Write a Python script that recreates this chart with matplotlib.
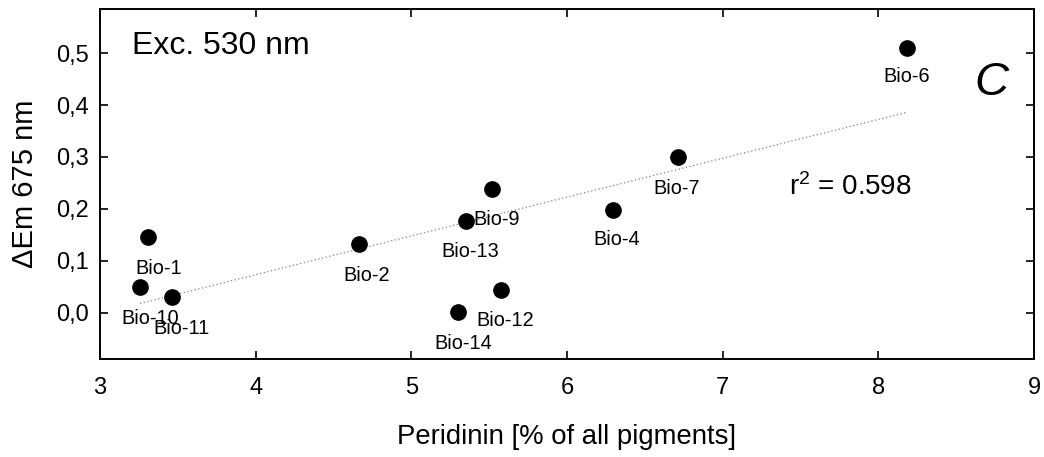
import numpy as np
import matplotlib
matplotlib.use("Agg")
import matplotlib.pyplot as plt

plt.rcParams['font.family'] = ['Liberation Sans', 'DejaVu Sans']
plt.rcParams['mathtext.fontset'] = 'custom'
plt.rcParams['mathtext.rm'] = 'Liberation Sans'
plt.rcParams['mathtext.it'] = 'Liberation Sans:italic'

# ------------------------ data
names = ["Bio-1", "Bio-10", "Bio-11", "Bio-2", "Bio-9", "Bio-13",
         "Bio-4", "Bio-12", "Bio-14", "Bio-7", "Bio-6"]
peridinin = [3.31, 3.257, 3.465, 4.665, 5.516, 5.349, 6.297, 5.574, 5.297, 6.71, 8.187]
d_em = [0.146, 0.049, 0.031, 0.132, 0.238, 0.177, 0.198, 0.044, 0.001, 0.300, 0.509]

xticks = [3, 4, 5, 6, 7, 8, 9]
yticks = [0.0, 0.1, 0.2, 0.3, 0.4, 0.5]
ytick_labels = ["0,0", "0,1", "0,2", "0,3", "0,4", "0,5"]

# label offsets in pixels (dx right, dy down)
px_off = {"Bio-1": (10, 32), "Bio-10": (10, 31), "Bio-11": (9, 32), "Bio-2": (7, 31),
          "Bio-9": (5, 30), "Bio-13": (5, 31), "Bio-4": (3, 30), "Bio-12": (5, 31),
          "Bio-14": (6, 31), "Bio-7": (-1, 32), "Bio-6": (-1, 28)}

# ------------------------ plot
fig = plt.figure(figsize=(10.44, 4.57), dpi=100)
ax = fig.add_axes([100/1044, 1-359/457, 934/1044, 350/457])

x = np.array(peridinin)
y = np.array(d_em)
slope, icpt = np.polyfit(x, y, 1)
xl = np.array([x.min(), x.max()])
ax.plot(xl, slope*xl + icpt, color='#808080', lw=0.9, linestyle=(0, (1, 2)))

ax.plot(x, y, 'o', color='black', markersize=11, zorder=3)

k = 72/100  # px -> pt
for n, xi, yi in zip(names, x, y):
    dx, dy = px_off[n]
    ax.annotate(n, (xi, yi), xytext=(dx*k, -dy*k), textcoords='offset points',
                ha='center', va='center', fontsize=14.3)

ax.set_xlim(3, 9)
ax.set_ylim(-0.089, 0.585)
ax.set_xticks(xticks)
ax.set_yticks(yticks)
ax.set_yticklabels(ytick_labels)
ax.tick_params(direction='in', length=6, width=1.2, labelsize=17,
               top=True, right=True)
ax.tick_params(axis='x', pad=13)
ax.tick_params(axis='y', pad=8)
for s in ax.spines.values():
    s.set_linewidth(1.4)

ax.set_xlabel("Peridinin [% of all pigments]", fontsize=19.8, labelpad=18)
ax.set_ylabel("\u0394Em 675 nm", fontsize=21, labelpad=12)

ax.text(132/1044, 1-46/457, "Exc. 530 nm", transform=fig.transFigure,
        fontsize=23, ha='left', va='center')
ax.text(991/1044, 1-83/457, "C", transform=fig.transFigure,
        fontsize=34, style='italic', ha='center', va='center')
ax.text(789/1044, 1-187/457, "r$^2$ = 0.598", transform=fig.transFigure,
        fontsize=20, ha='left', va='center')

fig.savefig("out.png", dpi=100)
